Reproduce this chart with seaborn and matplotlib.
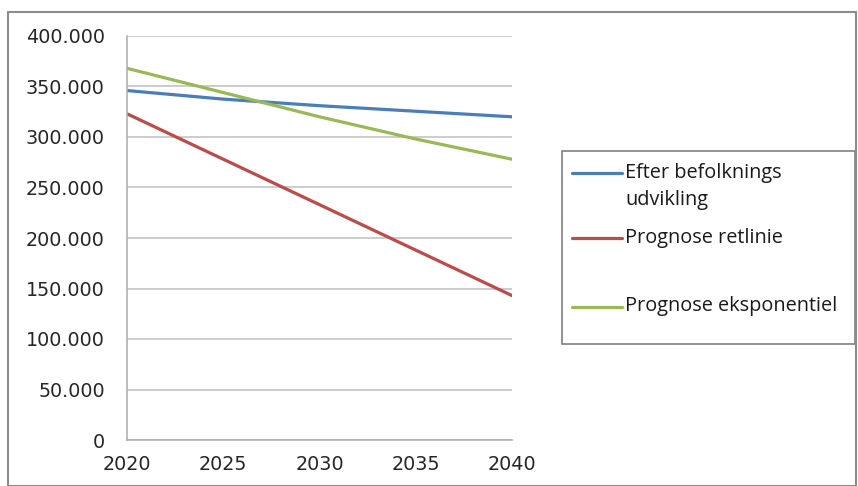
import matplotlib.pyplot as plt
import matplotlib.ticker as mticker
from matplotlib.patches import Rectangle
from matplotlib.lines import Line2D
import seaborn as sns
import pandas as pd

# Data
years = [2020, 2025, 2030, 2035, 2040]
befolkning = [346000, 337500, 331000, 325500, 320000]
retlinie = [323000, 278000, 233000, 188000, 143000]
eksponentiel = [368000, 344000, 320000, 298000, 278000]

series_names = ["Efter befolknings\nudvikling", "Prognose retlinie", "Prognose eksponentiel"]
series_colors = ["#4a7ebb", "#be4b48", "#98b954"]

df = pd.DataFrame({
    "year": years * 3,
    "value": befolkning + retlinie + eksponentiel,
    "serie": [series_names[0]] * len(years) + [series_names[1]] * len(years)
             + [series_names[2]] * len(years),
})

sns.set_style("white")
plt.rcParams['font.family'] = ['DejaVu Sans']

W, H = 858, 486
fig = plt.figure(figsize=(W / 100, H / 100), dpi=100)
ax = fig.add_axes([127 / W, 1 - 440 / H, (512 - 127) / W, (440 - 36) / H])


def px(x, y):
    # pixel position -> figure fraction
    return x / W, 1 - y / H


sns.lineplot(data=df, x="year", y="value", hue="serie", hue_order=series_names,
             palette=series_colors, linewidth=2.3, ax=ax, legend=False)

ax.set_xlim(2020, 2040)
ax.set_ylim(0, 400000)
ax.set_xticks(years)
ax.set_yticks(range(0, 400001, 50000))
ax.yaxis.set_major_formatter(
    mticker.FuncFormatter(lambda v, p: f"{v:,.0f}".replace(",", ".")))
ax.set_xlabel("")
ax.set_ylabel("")

ax.grid(True, axis="y", color="#c4c4c4", linewidth=1.2)
ax.set_axisbelow(True)
for side in ["top", "right"]:
    ax.spines[side].set_visible(False)
for side in ["left", "bottom"]:
    ax.spines[side].set_color("#b0b0b0")
    ax.spines[side].set_linewidth(1.2)
ax.tick_params(axis="both", which="major", labelsize=13.8, colors="#b0b0b0",
               labelcolor="#262626", length=7, width=1.2, direction="out")
ax.tick_params(axis="y", pad=9)
ax.tick_params(axis="x", pad=4)

# legend box (Excel style: handle aligned with first text line)
x0, y0 = px(562, 344)
x1, y1 = px(855, 151)
fig.patches.append(Rectangle((x0, y0), x1 - x0, y1 - y0, transform=fig.transFigure,
                             fill=True, facecolor="white", edgecolor="#7f7f7f",
                             linewidth=1.2))
legend_rows = [172.5, 238.5, 306.5]
for name, color, ly in zip(series_names, series_colors, legend_rows):
    (ha, va), (hb, _) = px(572, ly), px(622, ly)
    fig.lines.append(Line2D([ha, hb], [va, va], transform=fig.transFigure,
                            color=color, linewidth=2.3))
    for i, part in enumerate(name.split("\n")):
        tx, ty = px(625, ly + i * 27)
        fig.text(tx, ty, part, ha="left", va="center", fontsize=14.3,
                 family=["Open Sans", "DejaVu Sans"], color="#1a1a1a")

# outer chart border
fig.patches.append(Rectangle((8 / W, 0), 848 / W, 1 - 12 / H,
                             transform=fig.transFigure, fill=False,
                             edgecolor="#8c8c8c", linewidth=1.5))

fig.savefig("out.png", dpi=100)
